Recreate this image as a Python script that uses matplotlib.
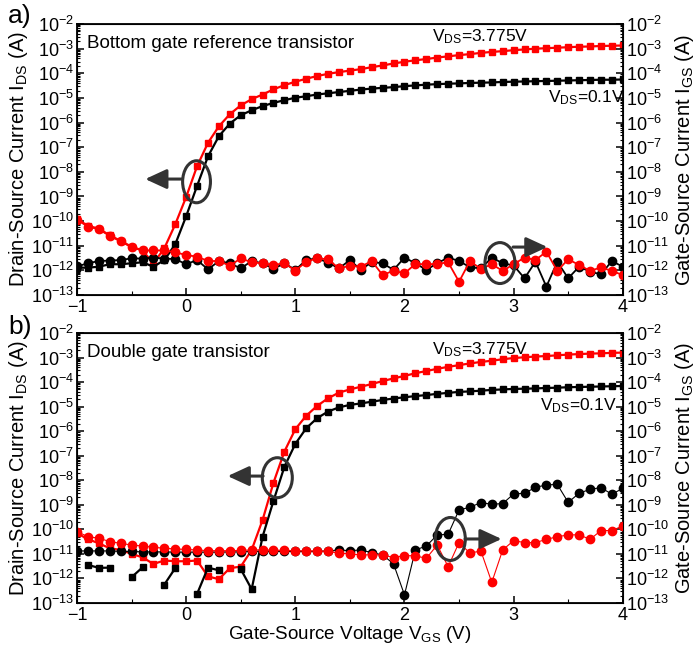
import numpy as np
import matplotlib.pyplot as plt
from matplotlib.patches import Ellipse
from matplotlib.ticker import LogLocator, NullFormatter

plt.rcParams['font.family'] = ['Liberation Sans', 'DejaVu Sans']
plt.rcParams['mathtext.fontset'] = 'custom'
plt.rcParams['mathtext.rm'] = 'Liberation Sans'
plt.rcParams['mathtext.it'] = 'Liberation Sans:italic'
plt.rcParams['mathtext.default'] = 'regular'

# gate voltage sweep, 0.1 V steps
vgs = np.linspace(-1, 4, 51)

# values below are log10 of the current in A
# a) bottom gate reference transistor
a_ids_hi = [-9.9, -10.2, -10.3, -10.58, -10.8, -11.04, -11.19, -11.72, -11.1, -10.13,
            -9.02, -7.77, -6.82, -6.15, -5.66, -5.3, -5.05, -4.86, -4.65, -4.48,
            -4.34, -4.22, -4.11, -4.02, -3.95, -3.89, -3.83, -3.75, -3.68, -3.6,
            -3.53, -3.47, -3.42, -3.36, -3.31, -3.26, -3.22, -3.17, -3.13, -3.1,
            -3.06, -3.03, -3.0, -2.98, -2.96, -2.94, -2.92, -2.91, -2.89, -2.88, -2.87]
a_ids_lo = [-11.89, -11.89, -11.85, -11.75, -11.75, -11.71, -11.67, -11.85, -11.58, -10.94,
            -9.8, -8.57, -7.37, -6.55, -6.04, -5.7, -5.5, -5.33, -5.2, -5.09,
            -4.99, -4.93, -4.86, -4.81, -4.76, -4.71, -4.66, -4.62, -4.59, -4.56,
            -4.52, -4.49, -4.46, -4.44, -4.42, -4.41, -4.39, -4.38, -4.37, -4.35,
            -4.34, -4.33, -4.32, -4.31, -4.3, -4.29, -4.28, -4.27, -4.26, -4.26, -4.25]
a_igs_lo = [-11.84, -11.71, -11.62, -11.6, -11.58, -11.51, -11.52, -11.48, -11.52, -11.54,
            -11.75, -11.58, -11.96, -11.62, -11.71, -11.92, -11.62, -11.71, -11.94, -11.71,
            -11.98, -11.58, -11.51, -11.68, -11.92, -11.58, -11.98, -11.66, -11.71, -11.98,
            -11.48, -11.71, -11.98, -11.71, -11.48, -11.62, -11.87, -11.92, -11.48, -11.71,
            -11.8, -12.32, -11.65, -12.66, -11.65, -12.32, -11.85, -12.05, -12.16, -11.62, -11.85]
a_igs_hi = [-9.95, -10.22, -10.33, -10.6, -10.82, -11.06, -11.19, -11.19, -11.19, -11.26,
            -11.38, -11.44, -11.62, -11.62, -11.81, -11.51, -11.67, -11.71, -11.78, -11.71,
            -12.01, -11.65, -11.51, -11.55, -11.92, -11.81, -11.85, -11.62, -12.19, -12.01,
            -12.12, -11.74, -11.75, -11.74, -11.67, -12.46, -11.62, -11.94, -11.75, -12.02,
            -11.75, -11.48, -11.58, -11.24, -12.02, -11.55, -11.78, -12.02, -11.88, -12.02, -12.19]

# b) double gate transistor (nan = negative current, not shown on log axis)
nan = np.nan
b_ids_hi = [-10.16, -10.4, -10.57, -10.77, -10.84, -11.0, -11.14, -11.41, -11.27, -11.3,
            -11.3, -11.27, -11.92, -12.03, -11.58, -11.52, -10.84, -9.62, -8.1, -6.83,
            -5.92, -5.37, -4.97, -4.66, -4.43, -4.3, -4.19, -4.08, -3.96, -3.85,
            -3.75, -3.64, -3.55, -3.46, -3.38, -3.31, -3.24, -3.18, -3.13, -3.07,
            -3.02, -2.99, -2.96, -2.94, -2.91, -2.88, -2.86, -2.84, -2.83, -2.81, -2.8]
b_ids_lo = [nan, -11.45, -11.57, -11.56, nan, -11.95, -11.55, nan, -12.25, -11.58,
            nan, -12.63, -11.56, -11.67, nan, -11.62, -12.44, -10.3, -8.84, -7.45,
            -6.52, -5.88, -5.47, -5.2, -5.03, -4.93, -4.87, -4.8, -4.73, -4.67,
            -4.62, -4.57, -4.53, -4.48, -4.44, -4.4, -4.38, -4.35, -4.32, -4.3,
            -4.28, -4.27, -4.26, -4.24, -4.23, -4.21, -4.2, -4.19, -4.18, -4.17, -4.16]
b_igs_lo = [-10.88, -10.88, -10.88, -10.88, -10.9, -10.9, -10.92, -10.92, -10.92, -10.93,
            -10.93, -10.93, -10.93, -10.93, -10.92, -10.92, -10.9, -10.9, -10.9, -10.9,
            -10.9, -10.9, -10.9, -10.88, -10.84, -10.87, -10.84, -10.95, -11.04, -11.41,
            -12.67, -10.84, -10.68, -10.23, -10.2, -9.21, -9.1, -8.91, -8.98, -8.95,
            -8.56, -8.53, -8.29, -8.19, -8.17, -8.9, -8.53, -8.37, -8.3, -8.57, -8.33]
b_igs_hi = [-10.09, -10.3, -10.36, -10.5, -10.57, -10.64, -10.68, -10.73, -10.77, -10.8,
            -10.82, -10.84, -10.87, -10.87, -10.87, -10.86, -10.84, -10.84, -10.85, -10.86,
            -10.87, -10.88, -10.88, -10.9, -10.97, -11.0, -11.04, -11.04, -11.04, -11.15,
            -11.07, -11.08, -11.18, -10.64, -11.52, -10.54, -10.97, -10.88, -12.16, -10.84,
            -10.46, -10.54, -10.54, -10.41, -10.3, -10.23, -10.22, -10.41, -10.05, -10.05, -9.86]

RED = '#ff0000'
GREY = '#333333'
FS = 13.5      # axis labels / panel titles
TFS = 13       # tick labels


def style_log(ax, side):
    ax.set_yscale('log')
    ax.set_ylim(1e-13, 1e-2)
    ax.set_xlim(-1, 4)
    ax.yaxis.set_major_locator(LogLocator(base=10, numticks=20))
    ax.yaxis.set_minor_locator(LogLocator(base=10, subs=np.arange(2, 10), numticks=100))
    ax.yaxis.set_minor_formatter(NullFormatter())
    ax.tick_params(axis='y', which='major', direction='in', length=5, width=1.1,
                   labelsize=TFS, pad=2, left=(side == 'left'), right=(side == 'right'),
                   labelleft=(side == 'left'), labelright=(side == 'right'))
    ax.tick_params(axis='y', which='minor', direction='in', length=2.5, width=0.8,
                   left=(side == 'left'), right=(side == 'right'))


def draw_panel(ax, ids_hi, ids_lo, igs_hi, igs_lo, circ_lw):
    ax.plot(vgs, 10 ** np.array(ids_hi), '-s', color=RED, ms=5, lw=1.6)
    ax.plot(vgs, 10 ** np.array(ids_lo), '-s', color='black', ms=5, lw=1.6)
    style_log(ax, 'left')
    ax.set_xticks([-1, 0, 1, 2, 3, 4])
    ax.set_xticks(np.arange(-0.5, 4, 1), minor=True)
    ax.tick_params(axis='x', which='major', direction='in', length=5, width=1.1,
                   labelsize=TFS, top=False, pad=3)
    ax.tick_params(axis='x', which='minor', direction='in', length=3, width=0.8, top=False)
    for sp in ax.spines.values():
        sp.set_linewidth(1.3)
    ax.set_ylabel(r'Drain-Source Current I$_{\mathrm{DS}}$ (A)', fontsize=FS + 1, labelpad=1)

    tw = ax.twinx()
    tw.plot(vgs, 10 ** np.array(igs_lo), '-o', color='black', ms=6, lw=circ_lw)
    tw.plot(vgs, 10 ** np.array(igs_hi), '-o', color=RED, ms=6, lw=circ_lw)
    style_log(tw, 'right')
    tw.set_ylabel(r'Gate-Source Current I$_{\mathrm{GS}}$ (A)', fontsize=FS + 1, labelpad=3)
    return tw


def circle_arrow(tw, centre, size, start, end):
    tw.add_patch(Ellipse(centre, size[0], size[1], transform=tw.transAxes,
                         fill=False, ec=GREY, lw=2.2, clip_on=False, zorder=5))
    tw.annotate('', xy=end, xytext=start, xycoords='axes fraction',
                arrowprops=dict(arrowstyle='-|>,head_length=0.65,head_width=0.3',
                                color=GREY, lw=2.2, shrinkA=0, shrinkB=0,
                                mutation_scale=20), zorder=5)


fig = plt.figure(figsize=(6.97, 6.52), dpi=100)
ax_a = fig.add_axes([0.1105, 0.5475, 0.783, 0.4156])
ax_b = fig.add_axes([0.1105, 0.0752, 0.783, 0.4141])

tw_a = draw_panel(ax_a, a_ids_hi, a_ids_lo, a_igs_hi, a_igs_lo, 1.3)
tw_b = draw_panel(ax_b, b_ids_hi, b_ids_lo, b_igs_hi, b_igs_lo, 0.8)
ax_b.set_xlabel(r'Gate-Source Voltage V$_{\mathrm{GS}}$ (V)', fontsize=FS, labelpad=0)

# panel texts
ax_a.text(0.018, 0.93, 'Bottom gate reference transistor', transform=ax_a.transAxes,
          fontsize=FS, ha='left', va='center')
ax_a.text(0.65, 0.952, r'V$_{\mathrm{DS}}$=3.775V', transform=ax_a.transAxes,
          fontsize=12.5, ha='left', va='center')
ax_a.text(0.863, 0.727, r'V$_{\mathrm{DS}}$=0.1V', transform=ax_a.transAxes,
          fontsize=12.5, ha='left', va='center')
ax_b.text(0.018, 0.926, 'Double gate transistor', transform=ax_b.transAxes,
          fontsize=FS, ha='left', va='center')
ax_b.text(0.65, 0.937, r'V$_{\mathrm{DS}}$=3.775V', transform=ax_b.transAxes,
          fontsize=12.5, ha='left', va='center')
ax_b.text(0.848, 0.73, r'V$_{\mathrm{DS}}$=0.1V', transform=ax_b.transAxes,
          fontsize=12.5, ha='left', va='center')

fig.text(0.012, 0.975, 'a)', fontsize=19, ha='left', va='center')
fig.text(0.012, 0.499, 'b)', fontsize=19, ha='left', va='center')

# circles with arrows pointing to the matching axis
circle_arrow(tw_a, (0.219, 0.418), (0.051, 0.155), (0.192, 0.428), (0.125, 0.428))
circle_arrow(tw_a, (0.775, 0.118), (0.055, 0.151), (0.799, 0.177), (0.862, 0.177))
circle_arrow(tw_b, (0.367, 0.464), (0.055, 0.148), (0.341, 0.470), (0.276, 0.470))
circle_arrow(tw_b, (0.684, 0.237), (0.055, 0.159), (0.711, 0.237), (0.778, 0.237))

fig.savefig('out.png', dpi=100)
